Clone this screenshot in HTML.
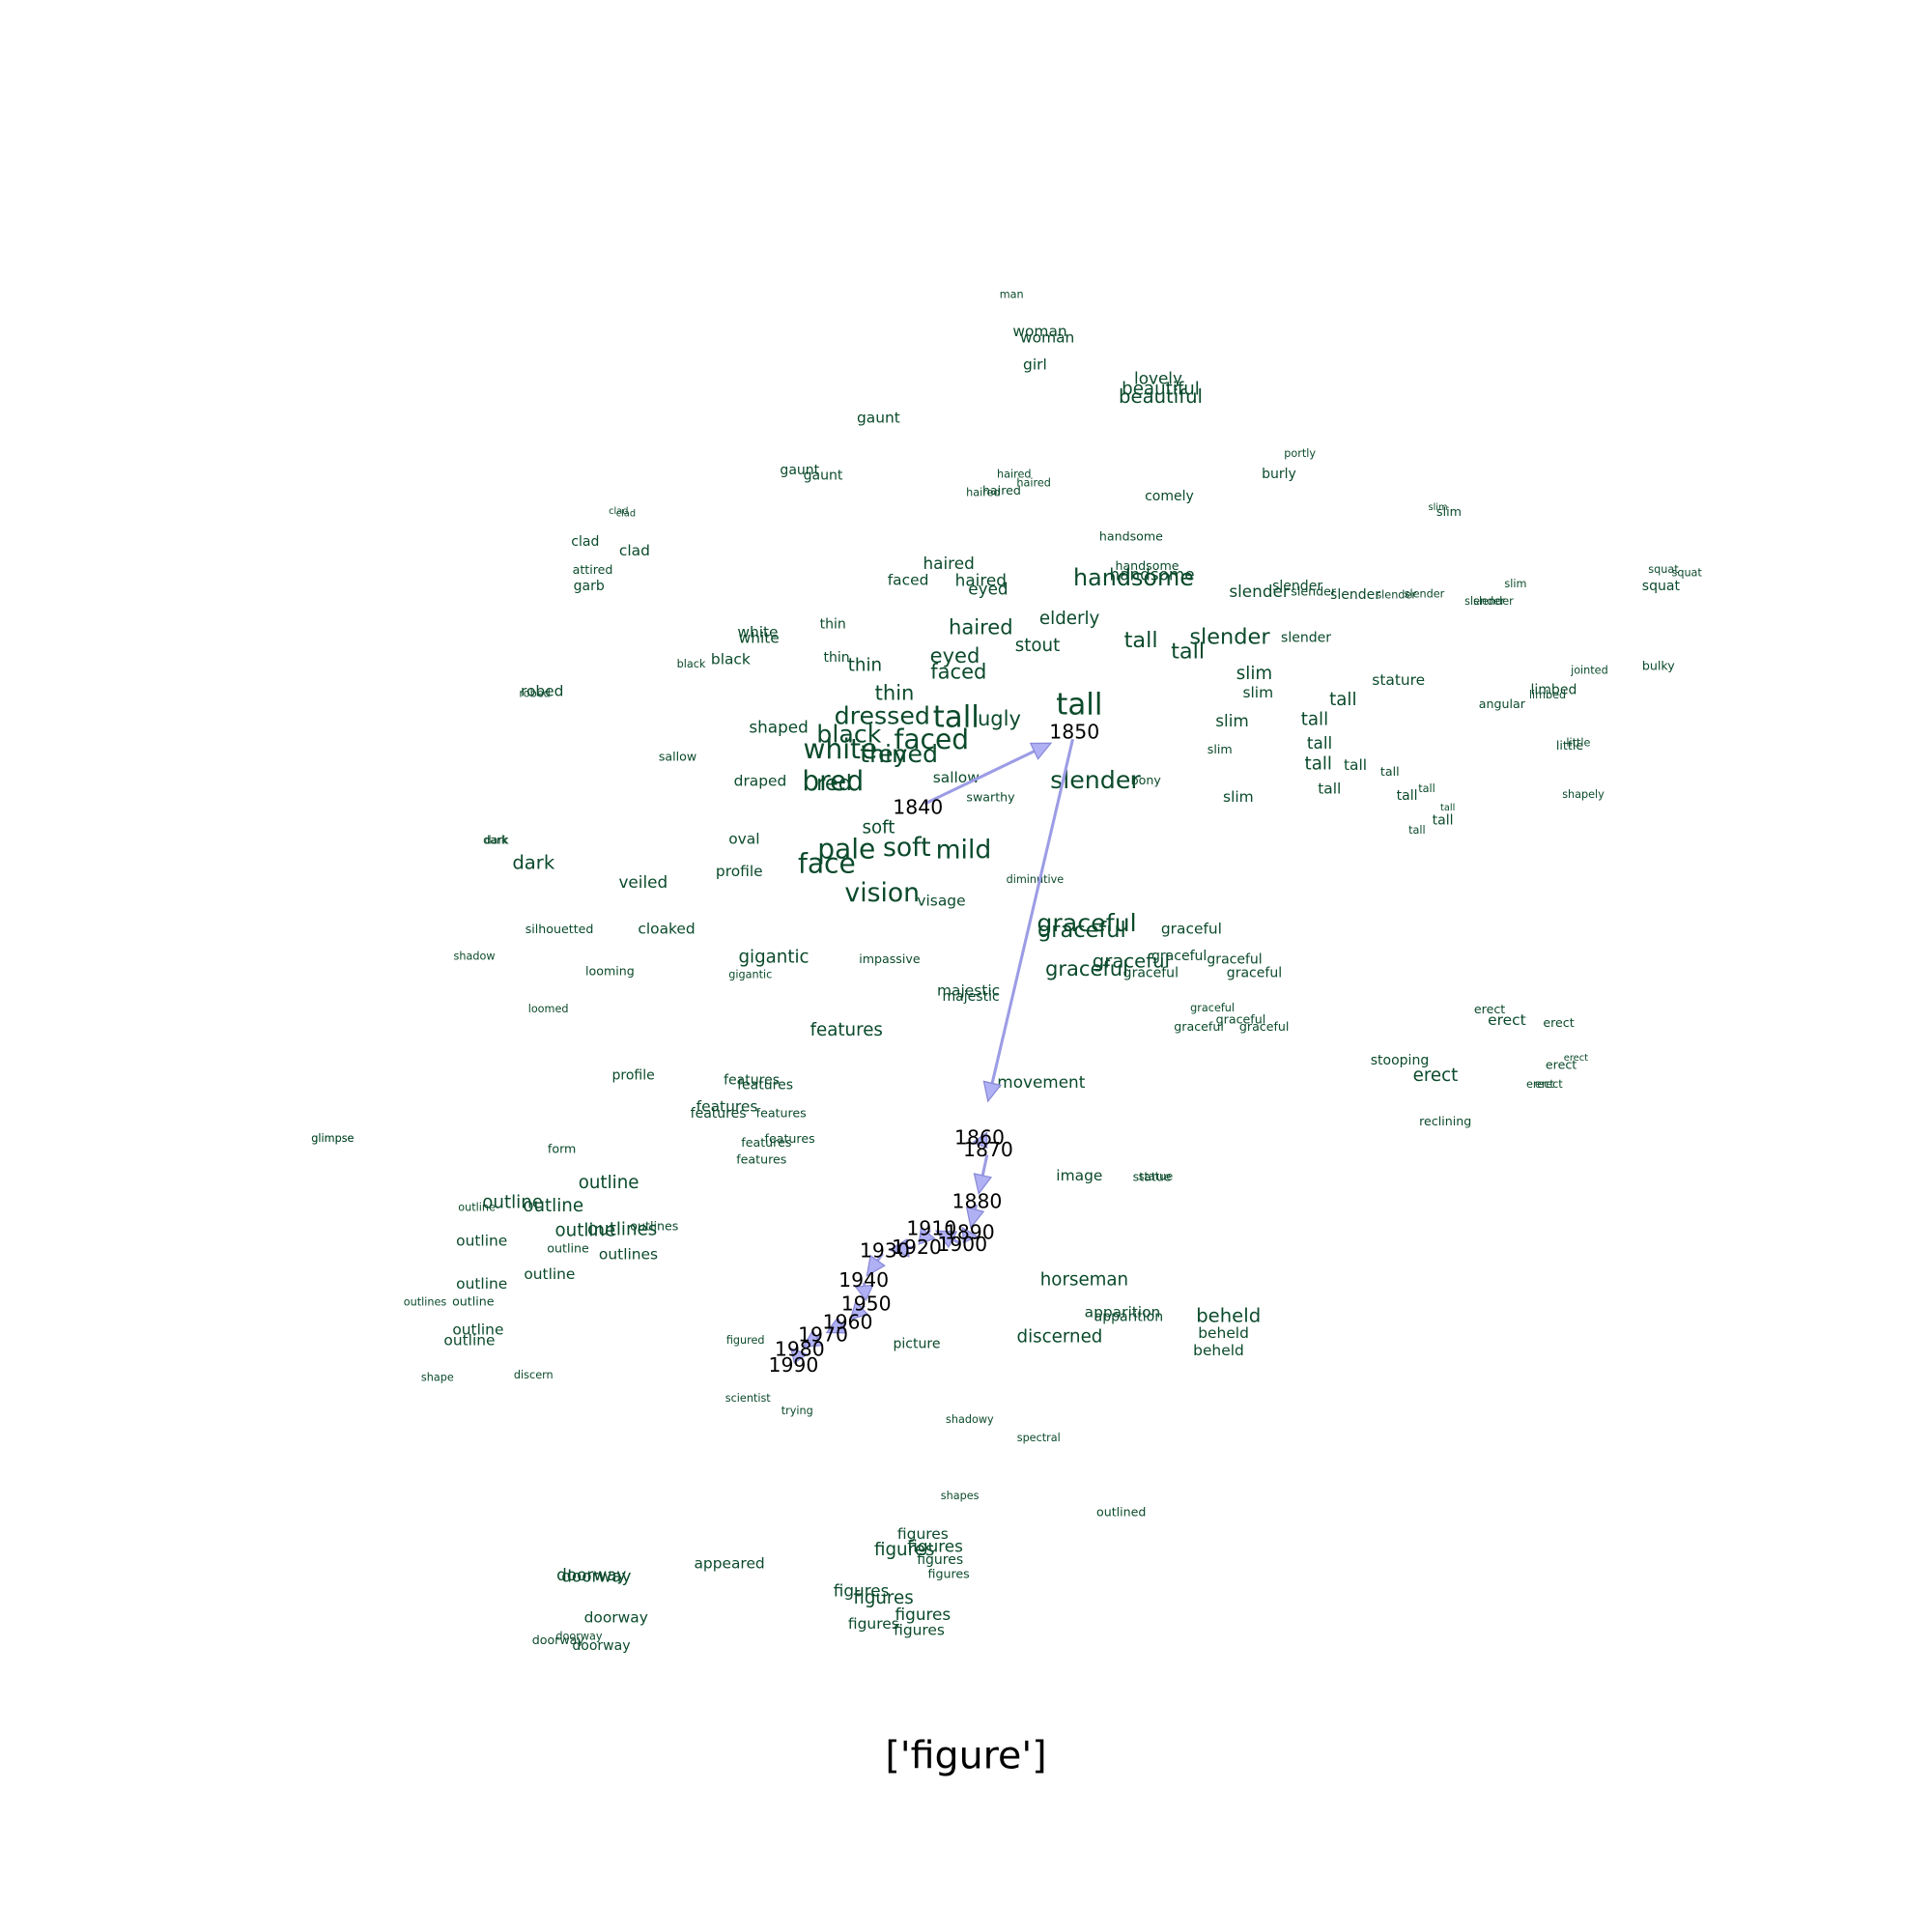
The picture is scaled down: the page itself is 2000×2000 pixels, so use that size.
<!DOCTYPE html>
<html><head><meta charset="utf-8"><style>
html,body{margin:0;padding:0;background:#fff}
svg{display:block}
text{font-family:"DejaVu Sans","Liberation Sans",sans-serif}
</style></head><body>
<svg id="chart" width="2000" height="2000" viewBox="0 0 1568 1568" xmlns="http://www.w3.org/2000/svg">
<g id="words"></g>
<g id="arrows"></g>
<g id="years"></g>
<text x="784" y="1425" font-size="31" text-anchor="middle" dominant-baseline="central" fill="#000">['figure']</text>
</svg>
<script>
const words = ["man","woman","woman","girl","lovely","beautiful","beautiful","gaunt","portly","burly","gaunt","gaunt","haired","haired","haired","haired","comely","clad","clad","slim","slim","clad","clad","handsome","haired","attired","handsome","faced","haired","eyed","handsome","handsome","garb","slender","slender","slender","slender","slender","slender","slender","slender","slim","squat","squat","squat","thin","white","white","haired","elderly","tall","slender","tall","slender","stout","thin","black","black","thin","eyed","faced","jointed","bulky","slim","slim","stature","tall","thin","robed","robed","limbed","limbed","angular","dressed","tall","ugly","tall","shaped","tall","slim","black","faced","white","tall","little","little","slim","eyed","thin","sallow","tall","tall","tall","draped","sallow","bred","red","slender","bony","tall","tall","tall","swarthy","slim","tall","tall","shapely","tall","soft","dark","dark","oval","pale","soft","mild","dark","face","profile","diminutive","veiled","vision","visage","graceful","graceful","graceful","silhouetted","cloaked","shadow","gigantic","impassive","graceful","graceful","graceful","graceful","looming","gigantic","graceful","graceful","majestic","majestic","loomed","graceful","erect","erect","erect","graceful","graceful","graceful","features","stooping","erect","erect","profile","features","erect","movement","features","erect","erect","features","features","features","reclining","glimpse","glimpse","features","features","form","features","image","statue","statue","outline","outline","outline","outline","outlines","outline","outlines","outline","outline","outlines","outline","outline","outlines","outline","outline","outline","horseman","apparition","apparition","beheld","beheld","beheld","discerned","figured","picture","shape","discern","scientist","trying","shadowy","spectral","shapes","outlined","figures","figures","figures","figures","figures","appeared","doorway","doorway","figures","figures","figures","doorway","figures","figures","doorway","doorway","doorway"];
const wordX = [821,844,850,840,940,942,942,713,1055,1038,649,668,823,839,813,798,949,502,508,1167,1176,475,515,918,770,481,931,737,796,802,920,935,478,1053,1022,1066,1100,1133,1156,1205,1212,1230,1350,1369,1348,676,615,616,796,868,926,998,964,1060,842,679,561,593,702,775,778,1290,1346,1018,1021,1135,1090,726,440,434,1261,1256,1219,716,776,811,876,632,1067,1000,689,756,682,1071,1274,1281,990,737,717,550,1070,1100,1128,617,776,676,677,889,930,1079,1158,1142,804,1005,1175,1171,1285,1150,713,402,403,604,687,736,782,433,671,600,840,522,716,764,882,878,967,454,541,385,628,722,957,918,1002,882,495,609,934,1018,786,788,445,984,1209,1223,1265,1007,973,1026,687,1136,1279,1267,514,610,1165,845,621,1250,1257,590,583,634,1173,270,270,641,622,456,618,876,935,938,494,416,449,387,531,475,505,391,461,510,446,391,345,384,388,381,880,911,916,997,993,989,860,605,744,355,433,607,647,787,843,779,910,749,759,734,763,770,592,480,484,699,717,749,500,709,746,470,453,488];
const wordY = [239,269,274,296,307,316,322,339,368,385,382,386,385,392,398,400,403,415,417,412,415,440,447,435,457,462,459,471,471,478,469,466,476,476,480,480,483,483,482,488,488,474,462,465,476,507,513,518,509,502,520,517,529,518,524,534,539,535,540,532,545,544,540,547,562,552,568,562,561,563,560,564,571,581,582,583,572,590,584,585,596,600,608,603,605,603,608,612,612,614,620,621,626,634,631,634,636,633,633,640,640,646,647,647,656,666,645,674,672,682,682,681,689,688,690,700,701,707,714,716,725,731,749,755,754,754,754,776,777,778,776,780,779,786,788,791,790,790,804,809,819,818,819,828,830,827,833,833,836,861,859,864,873,877,873,878,881,880,880,898,904,903,910,924,924,924,927,932,941,954,955,955,960,976,979,980,995,999,998,1007,1013,1018,1034,1042,1057,1056,1079,1088,1039,1065,1069,1068,1082,1096,1085,1088,1091,1118,1116,1135,1145,1152,1167,1214,1227,1245,1255,1258,1266,1277,1269,1278,1279,1291,1297,1310,1313,1318,1323,1328,1331,1336];
const wordSize = [8,11,11,11,12,13,14,11,8,10,10,10,8,8,9,8,10,7,7,7,9,10,11,9,12,9,9,11,12,12,17,12,10,10,12,9,10,8,8,8,8,8,8,8,10,10,11,11,15,13,16,16,16,10,13,10,8,11,13,15,15,8,9,13,11,11,13,15,11,8,10,8,9,18,22,15,22,12,13,12,18,20,20,12,9,8,9,18,18,9,13,11,9,11,11,20,16,18,9,11,8,10,9,11,7,10,8,8,13,8,8,11,20,19,19,14,20,11,8,12,19,11,18,16,11,9,11,8,13,9,10,14,10,15,9,8,10,10,11,10,8,8,9,11,9,9,9,9,13,10,7,9,10,10,13,12,10,8,8,11,10,9,9,8,8,9,9,9,9,11,9,8,13,13,13,8,9,13,13,11,9,11,11,11,8,9,11,11,13,11,10,14,11,11,13,8,10,8,8,8,8,8,8,8,9,11,12,13,10,9,11,12,12,12,13,12,11,11,11,8,9,10];
const years = ["1840","1850","1860","1870","1880","1890","1900","1910","1920","1930","1940","1950","1960","1970","1980","1990"];
const yearX = [745,872,795,802,793,787,781,756,744,718,701,703,688,668,649,644];
const yearY = [655,594,923,933,975,1000,1010,997,1012,1015,1039,1058,1073,1083,1095,1108];

const NS="http://www.w3.org/2000/svg";
const scale=1.1;
const gw=document.getElementById('words');
for(let i=0;i<words.length;i++){
  const t=document.createElementNS(NS,'text');
  
  
  t.setAttribute('x',wordX[i]);t.setAttribute('y',wordY[i]);
  t.setAttribute('font-size',(wordSize[i]*scale).toFixed(1));
  t.setAttribute('text-anchor','middle');t.setAttribute('dominant-baseline','central');
  t.setAttribute('fill','#0b4a2b');
  t.textContent=words[i];gw.appendChild(t);
}
const ga=document.getElementById('arrows');
for(let i=0;i<years.length-1;i++){
  let x1=yearX[i],y1=yearY[i],x2=yearX[i+1],y2=yearY[i+1];
  const dx=x2-x1,dy=y2-y1,L=Math.hypot(dx,dy);if(L<1)continue;
  const ux=dx/L,uy=dy/L,s1=Math.min(6,L*0.1),s2=Math.min(30,L*0.15);
  const sx=x1+ux*s1,sy=y1+uy*s1,ex=x2-ux*s2,ey=y2-uy*s2;
  const hl=Math.min(15,Math.max(10,L*0.6)),hw=7;
  const bx=ex-ux*hl,by=ey-uy*hl;
  const l=document.createElementNS(NS,'line');
  
  
  l.setAttribute('x1',sx);l.setAttribute('y1',sy);l.setAttribute('x2',bx);l.setAttribute('y2',by);
  l.setAttribute('stroke','#9c9ce6');l.setAttribute('stroke-width','2.4');
  ga.appendChild(l);
  const p=document.createElementNS(NS,'path');
  
  
  p.setAttribute('d',`M${bx-uy*hw},${by+ux*hw} L${ex},${ey} L${bx+uy*hw},${by-ux*hw} Z`);
  p.setAttribute('fill','#b0b0f5');p.setAttribute('stroke','#8a8ad8');p.setAttribute('stroke-width','1');
  ga.appendChild(p);
}
const gy=document.getElementById('years');
for(let i=0;i<years.length;i++){
  const t=document.createElementNS(NS,'text');
  
  
  t.setAttribute('x',yearX[i]);t.setAttribute('y',yearY[i]);
  t.setAttribute('font-size','16');t.setAttribute('text-anchor','middle');t.setAttribute('dominant-baseline','central');
  t.setAttribute('fill','#000');t.textContent=years[i];gy.appendChild(t);
}
</script>
</body></html>
